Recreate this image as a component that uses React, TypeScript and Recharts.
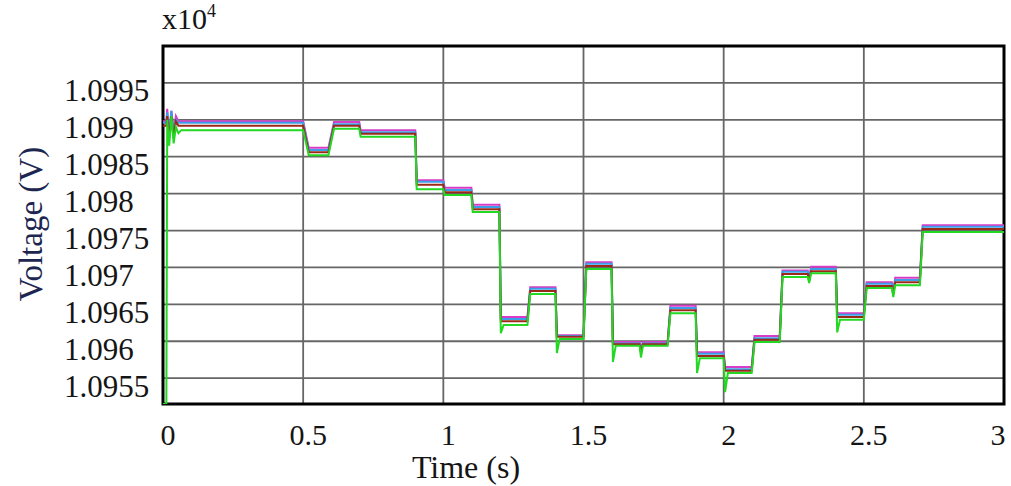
import React from "react";
import { LineChart, Line, XAxis, YAxis, CartesianGrid, ReferenceArea } from "recharts";

// time axis (s), shared by all four traces
const TIME = [
  0, 0.012, 0.015, 0.022, 0.03, 0.038, 0.046, 0.055, 0.065, 0.5,
  0.52, 0.59, 0.61, 0.7, 0.705, 0.9, 0.905, 1.0, 1.005, 1.1,
  1.105, 1.2, 1.205, 1.215, 1.3, 1.31, 1.4, 1.405, 1.415, 1.5,
  1.51, 1.6, 1.605, 1.615, 1.7, 1.705, 1.712, 1.8, 1.81, 1.9,
  1.905, 1.915, 2.0, 2.005, 2.015, 2.1, 2.11, 2.2, 2.21, 2.3,
  2.305, 2.312, 2.4, 2.405, 2.415, 2.5, 2.51, 2.6, 2.605, 2.612,
  2.7, 2.71, 3.0,
];

// voltages in units of 10^4 V
const MAGENTA = [
  1.09898, 1.09898, 1.09915, 1.0988, 1.09912, 1.09885, 1.09905, 1.09898, 1.09898, 1.09898,
  1.09862, 1.09862, 1.09897, 1.09897, 1.09886, 1.09886, 1.09818, 1.09818, 1.09808, 1.09808,
  1.09785, 1.09785, 1.09633, 1.09633, 1.09633, 1.09673, 1.09673, 1.09608, 1.09608, 1.09608,
  1.09707, 1.09707, 1.09599, 1.09599, 1.09599, 1.0959, 1.09599, 1.09599, 1.09648, 1.09648,
  1.09585, 1.09585, 1.09585, 1.09565, 1.09565, 1.09565, 1.09607, 1.09607, 1.09696, 1.09696,
  1.09686, 1.09701, 1.09701, 1.09638, 1.09638, 1.09638, 1.0968, 1.0968, 1.09668, 1.09686,
  1.09686, 1.09757, 1.09757,
];
const BLUE = [
  1.09896, 1.09896, 1.0991, 1.09878, 1.09912, 1.0988, 1.099, 1.09896, 1.09896, 1.09896,
  1.09859, 1.09859, 1.09894, 1.09894, 1.09883, 1.09883, 1.09816, 1.09816, 1.09805, 1.09805,
  1.09782, 1.09782, 1.0963, 1.0963, 1.0963, 1.09671, 1.09671, 1.09607, 1.09607, 1.09607,
  1.09705, 1.09705, 1.09597, 1.09597, 1.09597, 1.09587, 1.09597, 1.09597, 1.09645, 1.09645,
  1.09583, 1.09583, 1.09583, 1.09562, 1.09562, 1.09562, 1.09604, 1.09604, 1.09694, 1.09694,
  1.09684, 1.09698, 1.09698, 1.09636, 1.09636, 1.09636, 1.09678, 1.09678, 1.09666, 1.09683,
  1.09683, 1.09755, 1.09755,
];
const RED = [
  1.09892, 1.09892, 1.09905, 1.09875, 1.09905, 1.09875, 1.09898, 1.09892, 1.09892, 1.09892,
  1.09856, 1.09856, 1.09892, 1.09892, 1.09881, 1.09881, 1.09812, 1.09812, 1.09802, 1.09802,
  1.09779, 1.09779, 1.09627, 1.09627, 1.09627, 1.09668, 1.09668, 1.09606, 1.09606, 1.09606,
  1.09702, 1.09702, 1.09596, 1.09596, 1.09596, 1.09584, 1.09596, 1.09596, 1.09642, 1.09642,
  1.0958, 1.0958, 1.0958, 1.0956, 1.0956, 1.0956, 1.09602, 1.09602, 1.09691, 1.09691,
  1.09682, 1.09695, 1.09695, 1.09633, 1.09633, 1.09633, 1.09675, 1.09675, 1.09663, 1.0968,
  1.0968, 1.09752, 1.09752,
];
const GREEN = [
  1.09515, 1.09515, 1.099, 1.09865, 1.09905, 1.09868, 1.0989, 1.09882, 1.09886, 1.09886,
  1.09852, 1.09852, 1.09888, 1.09888, 1.09877, 1.09877, 1.09806, 1.09806, 1.09798, 1.09798,
  1.09775, 1.09775, 1.09611, 1.09622, 1.09622, 1.09664, 1.09664, 1.09584, 1.09603, 1.09603,
  1.09698, 1.09698, 1.09572, 1.09594, 1.09594, 1.09578, 1.09594, 1.09594, 1.09638, 1.09638,
  1.09557, 1.09577, 1.09577, 1.09531, 1.09557, 1.09557, 1.09599, 1.09599, 1.09687, 1.09687,
  1.09679, 1.09692, 1.09692, 1.09612, 1.09629, 1.09629, 1.09672, 1.09672, 1.0966, 1.09676,
  1.09676, 1.09748, 1.09748,
];

const X_TICKS = [0, 0.5, 1, 1.5, 2, 2.5, 3];
const Y_TICKS = [1.0955, 1.096, 1.0965, 1.097, 1.0975, 1.098, 1.0985, 1.099, 1.0995];
const Y_MIN = 1.09515;
const Y_MAX = 1.1;

const data = TIME.map((t, i) => ({
  t,
  m: MAGENTA[i],
  b: BLUE[i],
  r: RED[i],
  g: GREEN[i],
}));

const FONT = "'Liberation Serif', 'Times New Roman', serif";

const YTick = (props: any) => {
  const { y, payload } = props;
  return (
    <text x={64} y={y + 8} fontSize={31} fontFamily={FONT} fill="#151515" dominantBaseline="central">
      {String(payload.value)}
    </text>
  );
};

const XTick = (props: any) => {
  const { x, payload } = props;
  // last label sits just inside the right edge, as in the source figure
  const last = payload.value === X_TICKS[X_TICKS.length - 1];
  return (
    <text
      x={last ? x - 6 : x + 5}
      y={434}
      fontSize={30}
      fontFamily={FONT}
      fill="#151515"
      textAnchor="middle"
      dominantBaseline="central"
    >
      {String(payload.value)}
    </text>
  );
};

export default function App() {
  return (
    <div style={{ position: "absolute", left: 0, top: 0, width: 1011, height: 486, background: "#fff" }}>
      <LineChart width={1011} height={486} data={data} margin={{ top: 46, right: 7, bottom: 0, left: 0 }}>
        <CartesianGrid stroke="#666" strokeWidth={1.8} />
        <XAxis
          dataKey="t"
          type="number"
          domain={[0, 3]}
          ticks={X_TICKS}
          height={82}
          tick={<XTick />}
          tickLine={false}
          axisLine={false}
          allowDataOverflow
        />
        <YAxis
          type="number"
          domain={[Y_MIN, Y_MAX]}
          ticks={Y_TICKS}
          width={163}
          tick={<YTick />}
          tickLine={false}
          axisLine={false}
          allowDataOverflow
        />
        <Line dataKey="m" type="linear" stroke="#d83cc6" strokeWidth={2} dot={false} isAnimationActive={false} />
        <Line dataKey="b" type="linear" stroke="#3a9ee8" strokeWidth={2} dot={false} isAnimationActive={false} />
        <Line dataKey="r" type="linear" stroke="#9a2a18" strokeWidth={2} dot={false} isAnimationActive={false} />
        <Line dataKey="g" type="linear" stroke="#22d822" strokeWidth={2} dot={false} isAnimationActive={false} />
        <ReferenceArea x1={0} x2={3} y1={Y_MIN} y2={Y_MAX} fill="none" stroke="#000" strokeWidth={3} ifOverflow="visible" />
      </LineChart>
      <div style={{ position: "absolute", left: 162, top: 4, fontFamily: FONT, fontSize: 30, color: "#151515", lineHeight: 1 }}>
        x10<sup style={{ fontSize: 18, verticalAlign: "top", position: "relative", top: -2 }}>4</sup>
      </div>
      <div
        style={{
          position: "absolute",
          left: 31,
          top: 224,
          transform: "translate(-50%, -50%) rotate(-90deg)",
          fontFamily: FONT,
          fontSize: 33,
          color: "#1c2650",
          whiteSpace: "nowrap",
          lineHeight: 1,
        }}
      >
        Voltage (V)
      </div>
      <div
        style={{
          position: "absolute",
          left: 466,
          top: 467,
          transform: "translate(-50%, -50%)",
          fontFamily: FONT,
          fontSize: 32,
          color: "#151515",
          whiteSpace: "nowrap",
          lineHeight: 1,
        }}
      >
        Time (s)
      </div>
    </div>
  );
}
